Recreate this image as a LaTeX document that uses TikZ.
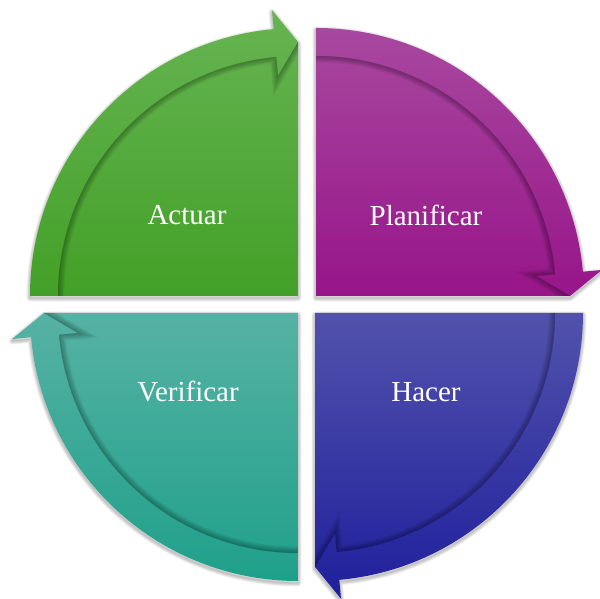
\documentclass[tikz,border=0pt]{standalone}
\usepackage{fontspec}
\setmainfont{Liberation Serif}
\usetikzlibrary{calc}
\definecolor{actuarTop}{HTML}{66B452}
\definecolor{actuarBot}{HTML}{43A027}
\definecolor{planTop}{HTML}{A8489F}
\definecolor{planBot}{HTML}{971589}
\definecolor{hacerTop}{HTML}{5252AC}
\definecolor{hacerBot}{HTML}{1F1F9C}
\definecolor{verifTop}{HTML}{56B2A4}
\definecolor{verifBot}{HTML}{1FA08A}
\tikzset{
    steptext/.style={text=white, inner sep=0pt, font=\fontsize{29}{34}\selectfont},
    pageshadow/.style={black, opacity=0.05, line join=round},
    rimshadow/.style={black, opacity=0.04}
}

\begin{document}
\begin{tikzpicture}[x=1pt, y=1pt]
    \useasboundingbox (0,0) rectangle (600,599);
    % four quarters, each with its arrow on the rim (clockwise)
    \foreach \cx/\cy/\t/\ctop/\cbot in {298/303/180/actuarTop/actuarBot, 316/303/90/planTop/planBot, 315/286/0/hacerTop/hacerBot, 298/286/-90/verifTop/verifBot}{
        \pgfmathsetmacro{\h}{\t-90}
        \pgfmathsetmacro{\b}{\h+5.2}
        \begin{scope}[shift={(\cx,\cy)}]
            \foreach \k in {1,...,5}
                \draw[pageshadow, line width=\k*1.4pt, yshift=-2pt] (0,0) -- (\t:268) arc[start angle=\t, end angle=\b, radius=268] -- (\b:287) -- (\h:254) -- cycle;
            \path[top color=\ctop, bottom color=\cbot] (0,0) -- (\t:268) arc[start angle=\t, end angle=\b, radius=268] -- (\b:287) -- (\h:254) -- cycle;
            \begin{scope}
                \clip (0,0) -- (\t:240) arc[start angle=\t, end angle=\b, radius=240] -- (\b:221) -- (\h:254) -- cycle;
                \foreach \k in {1,...,8}
                    \draw[rimshadow, line width=\k*1.6pt] (\t:240) arc[start angle=\t, end angle=\b, radius=240] -- (\b:221) -- (\h:254);
            \end{scope}
        \end{scope}
    }
    \node[steptext] (actuar) at (187,384) {Actuar};
    \node[steptext] (planificar) at (426,384) {Planificar};
    \node[steptext] (verificar) at (188,207) {Verificar};
    \node[steptext] (hacer) at (426,207) {Hacer};
\end{tikzpicture}
\end{document}
